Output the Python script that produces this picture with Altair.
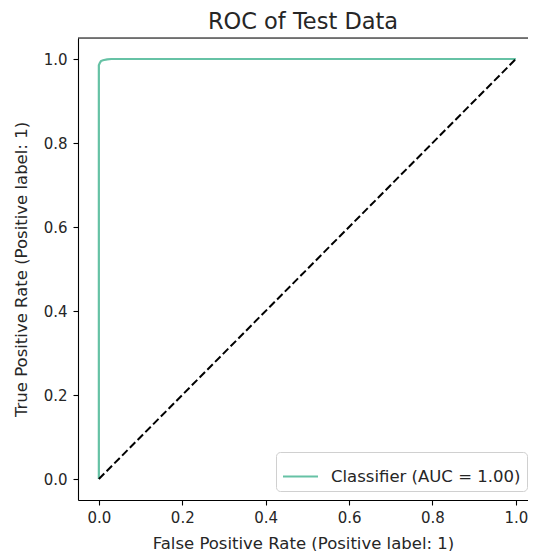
import altair as alt
import pandas as pd

# ROC curve points
fpr = [0.0, 0.0, 0.0, 0.002, 0.005, 0.01, 0.02, 0.03, 0.1, 0.5, 1.0]
tpr = [0.0, 0.5, 0.985, 0.99, 0.995, 0.997, 0.999, 1.0, 1.0, 1.0, 1.0]
series_name = "Classifier (AUC = 1.00)"
diag_x = [0.0, 1.0]
diag_y = [0.0, 1.0]
tick_vals = [0.0, 0.2, 0.4, 0.6, 0.8, 1.0]

roc = pd.DataFrame({"fpr": fpr, "tpr": tpr, "series": series_name, "order": list(range(len(fpr)))})
diag = pd.DataFrame({"fpr": diag_x, "tpr": diag_y})

FONT = "DejaVu Sans"
TXT = "#262626"

xscale = alt.Scale(domain=[-0.05, 1.0291], nice=False, zero=False)
yscale = alt.Scale(domain=[-0.05, 1.05], nice=False, zero=False)

xaxis = alt.Axis(values=tick_vals, format=".1f", title="False Positive Rate (Positive label: 1)",
                 grid=False, tickSize=5, tickColor="black", domainColor="black", domainWidth=1.1,
                 tickWidth=1.1, labelFont=FONT, labelFontSize=15, labelColor=TXT, labelPadding=5,
                 titleFont=FONT, titleFontSize=16.5, titleFontWeight="normal", titleColor=TXT,
                 titlePadding=10, labelFlush=False)
yaxis = alt.Axis(values=tick_vals, format=".1f", title="True Positive Rate (Positive label: 1)",
                 grid=False, tickSize=5, tickColor="black", domainColor="black", domainWidth=1.1,
                 tickWidth=1.1, labelFont=FONT, labelFontSize=15, labelColor=TXT, labelPadding=6,
                 titleFont=FONT, titleFontSize=16.5, titleFontWeight="normal", titleColor=TXT,
                 titlePadding=14, labelFlush=False)

curve = alt.Chart(roc).mark_line(strokeWidth=2.2, interpolate="linear").encode(
    x=alt.X("fpr:Q", scale=xscale, axis=xaxis),
    y=alt.Y("tpr:Q", scale=yscale, axis=yaxis),
    order="order:Q",
    color=alt.Color("series:N", scale=alt.Scale(range=["#66c2a5"]),
                    legend=alt.Legend(title=None, orient="none", legendX=198, legendY=414,
                                      symbolType="stroke", symbolSize=1225, symbolStrokeWidth=2,
                                      labelFont=FONT, labelFontSize=16.5, labelColor=TXT,
                                      labelLimit=400,
                                      padding=6, strokeColor="#d0d0d0", cornerRadius=4,
                                      fillColor="rgba(255,255,255,0.8)", labelOffset=12,
                                      symbolOffset=0)),
)

diagonal = alt.Chart(diag).mark_line(color="black", strokeWidth=2, strokeDash=[7.7, 3.3]).encode(
    x=alt.X("fpr:Q", scale=xscale),
    y=alt.Y("tpr:Q", scale=yscale),
)

top_border = alt.Chart(pd.DataFrame({"v": [1.05]})).mark_rule(color="black", strokeWidth=1.1).encode(
    y=alt.Y("v:Q", scale=yscale),
)

chart = alt.layer(curve, diagonal, top_border).properties(
    width=450, height=462,
    title=alt.Title("ROC of Test Data", font=FONT, fontSize=22.5, fontWeight="normal",
                    color=TXT, anchor="middle", offset=4),
    autosize=alt.AutoSizeParams(type="none"),
    padding={"left": 70, "top": 30, "right": 0, "bottom": 51},
).configure_view(stroke=None).configure(background="white")

chart.save("out.html", embed_options={"renderer": "svg", "actions": False})
